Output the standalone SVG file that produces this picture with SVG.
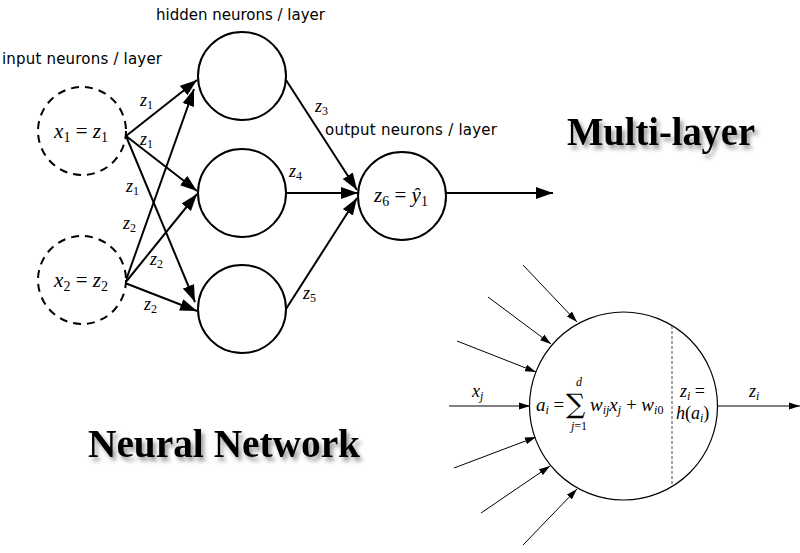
<svg xmlns="http://www.w3.org/2000/svg" width="800" height="553" viewBox="0 0 800 553">
<style>
.node{fill:#fff;stroke:#000;stroke-width:2}
.dash{stroke-dasharray:8,6}
.edge{stroke:#000;stroke-width:2;fill:none;marker-end:url(#big)}
.thin{stroke:#000;stroke-width:1;fill:none;marker-end:url(#small)}
.lbl{font-family:"DejaVu Sans","Liberation Sans",sans-serif;font-size:15px;fill:#000}
.m{font-family:"Liberation Serif","DejaVu Serif",serif;fill:#000}
.it{font-style:italic}
.title{font-family:"Liberation Serif","DejaVu Serif",serif;font-weight:bold;font-size:39px;fill:#000;filter:url(#sh)}
</style>
<defs>
<marker id="big" markerUnits="userSpaceOnUse" markerWidth="19" markerHeight="13" refX="17" refY="6.5" orient="auto"><path d="M0,0.5 L17,6.5 L0,12.5 Z" fill="#000"/></marker>
<marker id="small" markerUnits="userSpaceOnUse" markerWidth="12" markerHeight="8" refX="11" refY="4" orient="auto"><path d="M0,0.5 L11,4 L0,7.5 Z" fill="#000"/></marker>
<filter id="sh" x="-10%" y="-30%" width="120%" height="170%"><feDropShadow dx="3" dy="4" stdDeviation="2" flood-color="#000" flood-opacity="0.4"/></filter>
</defs>
<rect width="800" height="553" fill="#fff"/>

<g id="labels">
<text class="lbl" x="156" y="20" textLength="169">hidden neurons / layer</text>
<text class="lbl" x="2" y="64" textLength="160">input neurons / layer</text>
<text class="lbl" x="325" y="135" textLength="172">output neurons / layer</text>
</g>

<g id="connectors">
<path class="edge" d="M126,136 L197,80"/>
<path class="edge" d="M126,136 L197,191"/>
<path class="edge" d="M126,136 L195,302"/>
<path class="edge" d="M125,283 L194,89"/>
<path class="edge" d="M125,283 L197,194"/>
<path class="edge" d="M125,283 L197,311"/>
<path class="edge" d="M286,80 L357,190"/>
<path class="edge" d="M286,193 L358,193"/>
<path class="edge" d="M286,309 L357,198"/>
<path class="edge" d="M446,193 L553,193"/>
<path class="thin" d="M523,265 L577,322"/>
<path class="thin" d="M488,297 L551,344"/>
<path class="thin" d="M457,341 L536,372"/>
<path class="thin" d="M449,406 L530,406"/>
<path class="thin" d="M454,468 L536,437"/>
<path class="thin" d="M481,513 L550,466"/>
<path class="thin" d="M523,545 L577,489"/>
<path class="thin" d="M717,406 L800,406"/>
</g>

<g id="edge-labels" class="m" style="font-size:18px">
<text x="140" y="106"><tspan class="it">z</tspan><tspan font-size="12" dy="3">1</tspan></text>
<text x="140" y="145"><tspan class="it">z</tspan><tspan font-size="12" dy="3">1</tspan></text>
<text x="126" y="192"><tspan class="it">z</tspan><tspan font-size="12" dy="3">1</tspan></text>
<text x="123" y="229"><tspan class="it">z</tspan><tspan font-size="12" dy="3">2</tspan></text>
<text x="150" y="265"><tspan class="it">z</tspan><tspan font-size="12" dy="3">2</tspan></text>
<text x="144" y="310"><tspan class="it">z</tspan><tspan font-size="12" dy="3">2</tspan></text>
<text x="315" y="112"><tspan class="it">z</tspan><tspan font-size="12" dy="3">3</tspan></text>
<text x="289" y="177"><tspan class="it">z</tspan><tspan font-size="12" dy="3">4</tspan></text>
<text x="303" y="299"><tspan class="it">z</tspan><tspan font-size="12" dy="3">5</tspan></text>
</g>

<g id="x1">
<circle class="node dash" cx="82" cy="131" r="44"/>
<text class="m" style="font-size:21px" x="81" y="138" text-anchor="middle"><tspan class="it">x</tspan><tspan font-size="14" dy="4">1</tspan><tspan dy="-4"> = </tspan><tspan class="it">z</tspan><tspan font-size="14" dy="4">1</tspan></text>
</g>
<g id="x2">
<circle class="node dash" cx="82" cy="280" r="44"/>
<text class="m" style="font-size:21px" x="81" y="287" text-anchor="middle"><tspan class="it">x</tspan><tspan font-size="14" dy="4">2</tspan><tspan dy="-4"> = </tspan><tspan class="it">z</tspan><tspan font-size="14" dy="4">2</tspan></text>
</g>
<g id="h1"><circle class="node" cx="242" cy="76" r="44"/></g>
<g id="h2"><circle class="node" cx="242" cy="193" r="44"/></g>
<g id="h3"><circle class="node" cx="242" cy="309" r="44"/></g>
<g id="out">
<circle class="node" cx="402" cy="196" r="44"/>
<text class="m" style="font-size:21px" x="401" y="202" text-anchor="middle"><tspan class="it">z</tspan><tspan font-size="14" dy="4">6</tspan><tspan dy="-4"> = </tspan><tspan class="it">ŷ</tspan><tspan font-size="14" dy="4">1</tspan></text>
</g>

<g id="neuron">
<circle cx="623.5" cy="406" r="94" fill="#fff" stroke="#000" stroke-width="1.2"/>
<line x1="672" y1="326" x2="672" y2="486" stroke="#666" stroke-width="1.2" stroke-dasharray="3,2"/>
<text class="m" style="font-size:19px" x="536" y="411"><tspan class="it">a</tspan><tspan font-size="12" dy="3" class="it">i</tspan><tspan dy="-3"> =</tspan></text>
<text x="566" y="413" font-family="'DejaVu Serif',serif" style="font-size:27px">∑</text>
<text class="m it" style="font-size:12px" x="579" y="386" text-anchor="middle">d</text>
<text class="m" style="font-size:12px" x="579" y="430" text-anchor="middle"><tspan class="it">j</tspan>=1</text>
<text class="m" style="font-size:19px" x="590" y="411"><tspan class="it">w</tspan><tspan font-size="12" dy="3" class="it">ij</tspan><tspan dy="-3" class="it">x</tspan><tspan font-size="12" dy="3" class="it">j</tspan><tspan dy="-3"> + </tspan><tspan class="it">w</tspan><tspan font-size="12" dy="3"><tspan class="it">i</tspan>0</tspan></text>
<text class="m" style="font-size:18px" x="680" y="397"><tspan class="it">z</tspan><tspan font-size="12" dy="3" class="it">i</tspan><tspan dy="-3"> =</tspan></text>
<text class="m" style="font-size:18px" x="676" y="419"><tspan class="it">h</tspan>(<tspan class="it">a</tspan><tspan font-size="12" dy="3" class="it">i</tspan><tspan dy="-3">)</tspan></text>
<text class="m" style="font-size:18px" x="472" y="397"><tspan class="it">x</tspan><tspan font-size="12" dy="3" class="it">j</tspan></text>
<text class="m" style="font-size:18px" x="749" y="397"><tspan class="it">z</tspan><tspan font-size="12" dy="3" class="it">i</tspan></text>
</g>

<g id="titles">
<text class="title" x="567" y="145" textLength="188" lengthAdjust="spacingAndGlyphs">Multi-layer</text>
<text class="title" x="88" y="457" textLength="272" lengthAdjust="spacingAndGlyphs">Neural Network</text>
</g>
</svg>
